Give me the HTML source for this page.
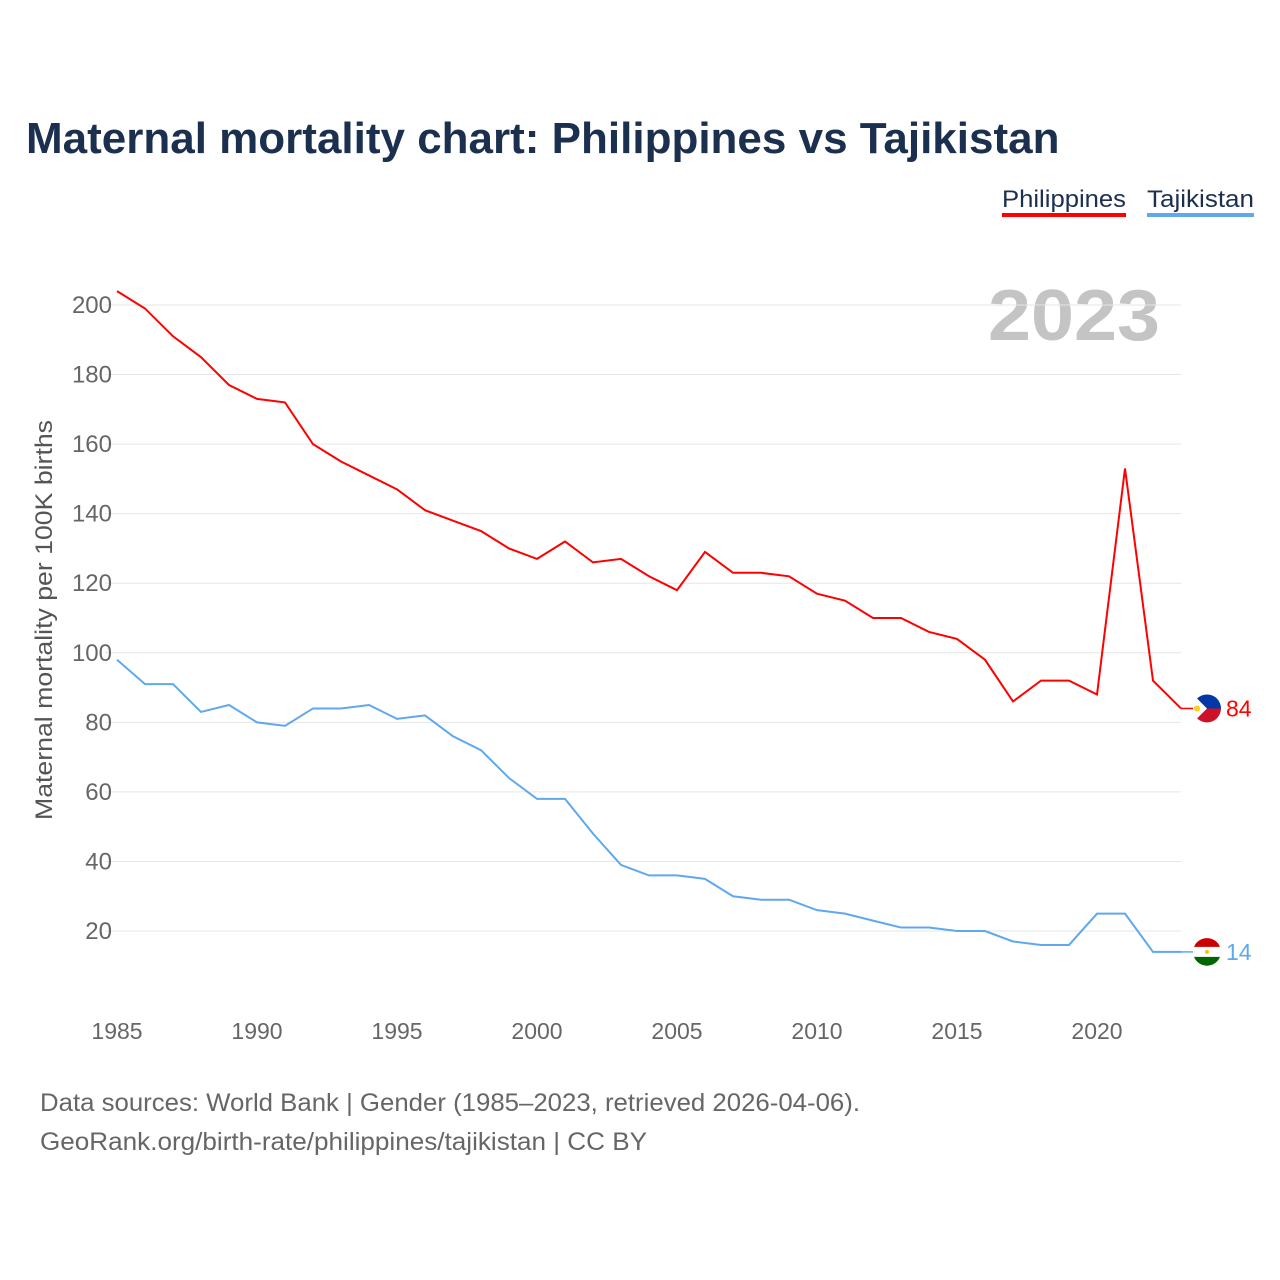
<!DOCTYPE html>
<html><head><meta charset="utf-8"><style>
body{margin:0;background:#fff;font-family:"Liberation Sans",sans-serif;}
#wrap{position:relative;width:1280px;height:1280px;overflow:hidden;}
</style></head><body>
<div id="wrap">
<svg id="chart" width="1280" height="1280">
<text x="26" y="153" font-size="44" font-weight="bold" fill="#1b2f4f">Maternal mortality chart: Philippines vs Tajikistan</text>
<g><text x="1002" y="207" font-size="24" fill="#1b2f4f" textLength="124" lengthAdjust="spacingAndGlyphs">Philippines</text><rect x="1002" y="213" width="124" height="4" fill="#ff0000"/></g>
<g><text x="1147" y="207" font-size="24" fill="#1b2f4f" textLength="107" lengthAdjust="spacingAndGlyphs">Tajikistan</text><rect x="1147" y="213" width="107" height="4" fill="#5fa8ee"/></g>
<text x="988" y="340" font-size="72" font-weight="bold" fill="#c4c4c4" textLength="172" lengthAdjust="spacingAndGlyphs">2023</text>
<text transform="translate(52,620) rotate(-90)" font-size="24" fill="#555" text-anchor="middle" textLength="400" lengthAdjust="spacingAndGlyphs">Maternal mortality per 100K births</text>
<g id="grid"></g><g id="lines"></g>
<text x="40" y="1111" font-size="25" fill="#666" textLength="820" lengthAdjust="spacingAndGlyphs">Data sources: World Bank | Gender (1985–2023, retrieved 2026-04-06).</text>
<text x="40" y="1150" font-size="25" fill="#666" textLength="607" lengthAdjust="spacingAndGlyphs">GeoRank.org/birth-rate/philippines/tajikistan | CC BY</text>
</svg></div>
<script>
const years=[];for(let y=1985;y<=2023;y++)years.push(y);
const philippines=[204,199,191,185,177,173,172,160,155,151,147,141,138,135,130,127,132,126,127,122,118,129,123,123,122,117,115,110,110,106,104,98,86,92,92,88,153,92,84];
const tajikistan=[98,91,91,83,85,80,79,84,84,85,81,82,76,72,64,58,58,48,39,36,36,35,30,29,29,26,25,23,21,21,20,20,17,16,16,25,25,14,14];
const yTicks=[20,40,60,80,100,120,140,160,180,200];
const xTicks=[1985,1990,1995,2000,2005,2010,2015,2020];
const X=v=>117+(v-1985)*28, Y=v=>1000.6-v*3.478;
const NS="http://www.w3.org/2000/svg";
const g=document.getElementById('grid'),L=document.getElementById('lines');
function el(t,a,p){const e=document.createElementNS(NS,t);for(const k in a)e.setAttribute(k,a[k]);p.appendChild(e);return e;}
yTicks.forEach(t=>{
 const l=el('line',{x1:105,x2:1181,y1:Y(t),y2:Y(t),stroke:'#e6e6e6','stroke-width':1},g);
 
 
 const tx=el('text',{x:112,y:Y(t)+8,'font-size':24,fill:'#666','text-anchor':'end'},g);tx.textContent=t;
 
 
});
xTicks.forEach(t=>{
 const tx=el('text',{x:X(t),y:1039,'font-size':23,fill:'#666','text-anchor':'middle'},g);tx.textContent=t;
 
 
});
function series(vals,color,name){
 const d=vals.map((v,i)=>(i?'L':'M')+X(years[i])+','+Y(v)).join(' ');
 const p=el('path',{d:d,fill:'none',stroke:color,'stroke-width':2},L);
 
 
 const last=vals[vals.length-1],ly=Y(last);
 el('line',{x1:1181,x2:1195,y1:ly,y2:ly,stroke:color,'stroke-width':1.5},L);
 const t=el('text',{x:1226,y:ly+8,'font-size':23,fill:color},L);t.textContent=last;
 
 
 return ly;
}
const py=series(philippines,'#ff0000','philippines');
const ty=series(tajikistan,'#5fa8ee','tajikistan');
let f=el('g',{},L);


el('path',{d:`M1193,${py} A14,14 0 0 1 1221,${py} Z`,fill:'#0038a8'},f);
el('path',{d:`M1193,${py} A14,14 0 0 0 1221,${py} Z`,fill:'#ce1126'},f);
el('path',{d:`M1193,${py-14} L1207,${py} L1193,${py+14} Z`,fill:'#fff'},f);
el('circle',{cx:1197,cy:py,r:3,fill:'#fcd116'},f);
f=el('g',{},L);


el('circle',{cx:1207,cy:ty,r:14,fill:'#fff'},f);
el('path',{d:`M1194,${ty-5} A14,14 0 0 1 1220,${ty-5} Z`,fill:'#cc0000'},f);
el('path',{d:`M1194,${ty+5} A14,14 0 0 0 1220,${ty+5} Z`,fill:'#006600'},f);
el('circle',{cx:1207,cy:ty,r:2,fill:'#f8c300'},f);
</script>
</body></html>
